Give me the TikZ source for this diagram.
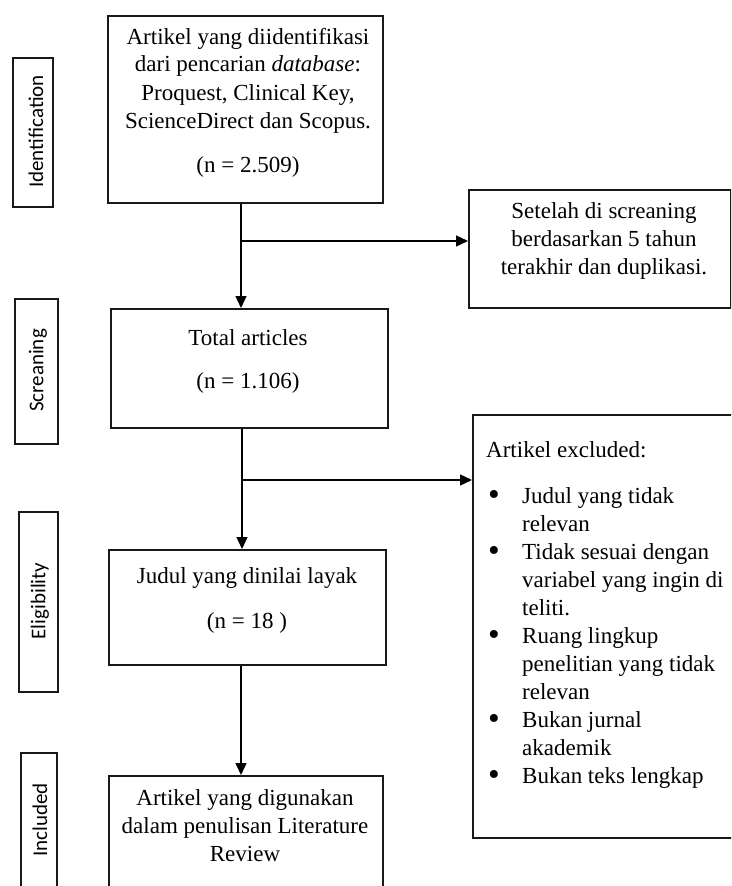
\documentclass[tikz,border=0pt]{standalone}
\usepackage{fontspec}
\setmainfont{Liberation Serif}
\newfontfamily\labfont{Carlito}
\usetikzlibrary{arrows.meta}
\newcommand\ctab[1]{\begin{tabular}[t]{@{}c@{}}#1\end{tabular}}
\newcommand\ltab[1]{\begin{tabular}[t]{@{}l@{}}#1\end{tabular}}
\newcommand\mybul{\makebox[36pt][l]{\hspace{2pt}\raisebox{-2pt}{\scalebox{1.45}{\textbullet}}}}
\newcommand\myind{\hspace*{36pt}}
\tikzset{
  box/.style={draw=black!90, line width=1.7pt, inner sep=0pt, anchor=north west},
  lab/.style={font=\labfont\fontsize{21}{25}\selectfont, inner sep=0pt, rotate=90},
  txt/.style={font=\fontsize{23}{28}\selectfont, inner sep=0pt},
  arr/.style={line width=1.4pt, -{Triangle[length=12pt,width=11pt]}},
  ln/.style={line width=1.4pt}
}
\begin{document}
\begin{tikzpicture}[x=1pt,y=-1pt]
\useasboundingbox (0,0) rectangle (731,886);
\begin{scope}
\clip (0,0) rectangle (731,886);
% side label boxes
\node[box, minimum width=40pt, minimum height=149pt] (idb) at (12,57) {};
\node[box, minimum width=43pt, minimum height=145pt] (scb) at (14,298) {};
\node[box, minimum width=39pt, minimum height=180pt] (elb) at (18,511) {};
\node[box, minimum width=36pt, minimum height=150pt] (inb) at (20,752) {};
\node[lab] (idl) at (36,131.5) {Identification};
\node[lab] (scl) at (38,370.5) {Screaning};
\node[lab] (ell) at (40,601) {Eligibility};
\node[lab] (inl) at (40,820) {Included};
% main boxes
\node[box, minimum width=275pt, minimum height=187pt] (b1) at (107,15) {};
\node[box, minimum width=277pt, minimum height=119pt] (b2) at (110,308) {};
\node[box, minimum width=277pt, minimum height=115pt] (b3) at (108,549) {};
\node[box, minimum width=274pt, minimum height=140pt] (b4) at (108,775) {};
% right boxes
\node[box, minimum width=262pt, minimum height=118pt] (r1) at (468,189) {};
\node[box, minimum width=280pt, minimum height=423pt] (r2) at (472,414) {};
% texts
\node[txt, anchor=base] (t1) at (248,44) {\ctab{Artikel yang diidentifikasi\\ dari pencarian \textit{database}:\\ Proquest, Clinical Key,\\ ScienceDirect dan Scopus.\\[16pt] (n = 2.509)}};
\node[txt, anchor=base] (t2) at (248,345) {\ctab{Total articles\\[15pt] (n = 1.106)}};
\node[txt, anchor=base] (t3) at (247,583) {\ctab{Judul yang dinilai layak\\[17pt] (n = 18 )}};
\node[txt, anchor=base] (t4) at (245,805) {\ctab{Artikel yang digunakan\\ dalam penulisan Literature\\ Review}};
\node[txt, anchor=base] (tr1) at (604,218) {\ctab{Setelah di screaning\\ berdasarkan 5 tahun\\ terakhir dan duplikasi.}};
\node[txt, anchor=base west] (tr2) at (486,457) {\ltab{Artikel excluded:\\[18pt]
\mybul Judul yang tidak\\ \myind relevan\\
\mybul Tidak sesuai dengan\\ \myind variabel yang ingin di\\ \myind teliti.\\
\mybul Ruang lingkup\\ \myind penelitian yang tidak\\ \myind relevan\\
\mybul Bukan jurnal\\ \myind akademik\\
\mybul Bukan teks lengkap}};
% connectors
\coordinate (c1) at (241,0);
\coordinate (c2) at (242,0);
\coordinate (j1) at (241,241);
\coordinate (j2) at (242,480);
\draw[arr] (b1.south -| c1) -- (b2.north -| c1);
\draw[arr] (j1) -- (r1.west |- j1);
\draw[arr] (b2.south -| c2) -- (b3.north -| c2);
\draw[arr] (j2) -- (r2.west |- j2);
\draw[arr] (b3.south -| c1) -- (b4.north -| c1);
\end{scope}
\end{tikzpicture}
\end{document}
